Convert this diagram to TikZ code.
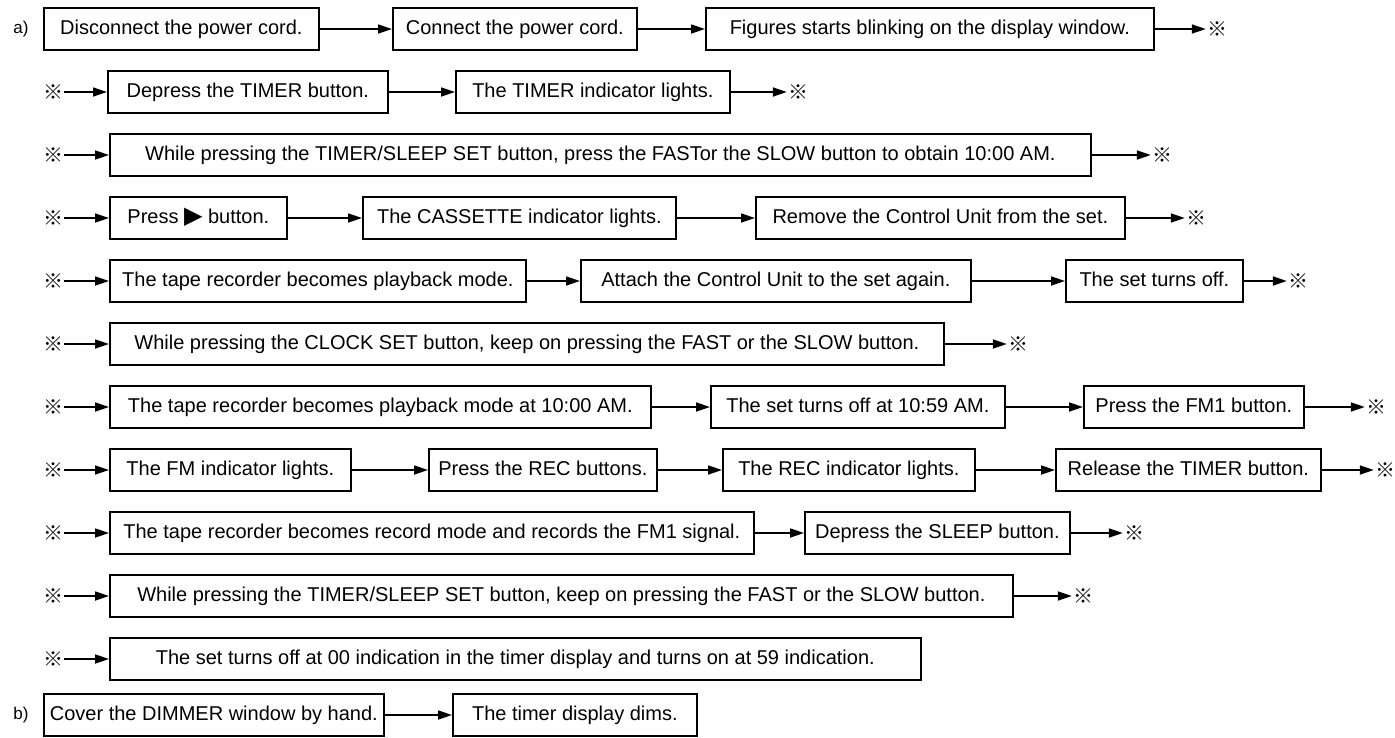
\documentclass[tikz,border=0pt]{standalone}
\usepackage{fontspec}
\setmainfont{Liberation Sans}
\newfontfamily\symfnt{DejaVu Sans}
\newfontfamily\markfnt{Noto Sans CJK JP}
\usetikzlibrary{arrows.meta}

\tikzset{
  stepbox/.style={draw, line width=1.7pt, anchor=west, minimum height=42pt, inner xsep=6pt,
    text height=15pt, text depth=4pt, font=\fontsize{20}{24}\selectfont},
  refmark/.style={inner sep=1pt, font=\markfnt\fontsize{20}{22}\selectfont},
  part/.style={font=\fontsize{17}{20}\selectfont},
  flow/.style={line width=1.7pt, -{Triangle[length=14pt,width=9pt]}},
}

\begin{document}
\begin{tikzpicture}[x=1pt,y=-1pt]
\useasboundingbox (0,0) rectangle (1395,737);
\fill[white] (0,0) rectangle (1395,737);

% a)
\node[part] (pa) at (21,29) {a)};
\node[stepbox, minimum width=275] (r1a) at (43,29) {Disconnect the power cord.};
\node[stepbox, minimum width=244] (r1b) at (392,29) {Connect the power cord.};
\node[stepbox, minimum width=448] (r1c) at (705,29) {Figures starts blinking on the display window.};
\node[refmark] (e1) at (1217,29) {※};

\node[stepbox, minimum width=280] (r2a) at (107,92) {Depress the TIMER button.};
\node[stepbox, minimum width=274] (r2b) at (455,92) {The TIMER indicator lights.};
\node[refmark] (e2) at (798,92) {※};

\node[stepbox, minimum width=981] (r3a) at (109,155) {While pressing the TIMER/SLEEP SET button, press the FASTor the SLOW button to obtain 10:00 AM.};
\node[refmark] (e3) at (1162,155) {※};

\node[stepbox, minimum width=177] (r4a) at (109,218) {Press {\symfnt\fontsize{24}{24}\selectfont ▶} button.};
\node[stepbox, minimum width=313] (r4b) at (362,218) {The CASSETTE indicator lights.};
\node[stepbox, minimum width=369] (r4c) at (755,218) {Remove the Control Unit from the set.};
\node[refmark] (e4) at (1196,218) {※};

\node[stepbox, minimum width=416] (r5a) at (109,281) {The tape recorder becomes playback mode.};
\node[stepbox, minimum width=390] (r5b) at (580,281) {Attach the Control Unit to the set again.};
\node[stepbox, minimum width=177] (r5c) at (1065,281) {The set turns off.};
\node[refmark] (e5) at (1298,281) {※};

\node[stepbox, minimum width=834] (r6a) at (109,344) {While pressing the CLOCK SET button, keep on pressing the FAST or the SLOW button.};
\node[refmark] (e6) at (1018,344) {※};

\node[stepbox, minimum width=541] (r7a) at (109,407) {The tape recorder becomes playback mode at 10:00 AM.};
\node[stepbox, minimum width=294] (r7b) at (710,407) {The set turns off at 10:59 AM.};
\node[stepbox, minimum width=220] (r7c) at (1083,407) {Press the FM1 button.};
\node[refmark] (e7) at (1376,407) {※};

\node[stepbox, minimum width=241] (r8a) at (109,470) {The FM indicator lights.};
\node[stepbox, minimum width=228] (r8b) at (428,470) {Press the REC buttons.};
\node[stepbox, minimum width=252] (r8c) at (722,470) {The REC indicator lights.};
\node[stepbox, minimum width=265] (r8d) at (1055,470) {Release the TIMER button.};
\node[refmark] (e8) at (1385,470) {※};

\node[stepbox, minimum width=644] (r9a) at (109,533) {The tape recorder becomes record mode and records the FM1 signal.};
\node[stepbox, minimum width=265] (r9b) at (804,533) {Depress the SLEEP button.};
\node[refmark] (e9) at (1134,533) {※};

\node[stepbox, minimum width=903] (r10a) at (109,596) {While pressing the TIMER/SLEEP SET button, keep on pressing the FAST or the SLOW button.};
\node[refmark] (e10) at (1083,596) {※};

\node[stepbox, minimum width=811] (r11a) at (109,659) {The set turns off at 00 indication in the timer display and turns on at 59 indication.};

% b)
\node[part] (pb) at (21,715) {b)};
\node[stepbox, minimum width=340] (rba) at (43,715) {Cover the DIMMER window by hand.};
\node[stepbox, minimum width=244] (rbb) at (452,715) {The timer display dims.};

% arrows along the rows
\foreach \a/\b in {r1a/r1b,r1b/r1c,r1c/e1,r2a/r2b,r2b/e2,r3a/e3,r4a/r4b,r4b/r4c,r4c/e4,
  r5a/r5b,r5b/r5c,r5c/e5,r6a/e6,r7a/r7b,r7b/r7c,r7c/e7,r8a/r8b,r8b/r8c,r8c/r8d,r8d/e8,
  r9a/r9b,r9b/e9,r10a/e10,rba/rbb}
  \draw[flow] (\a) -- (\b);

% marks at the row starts
\foreach \r/\y in {2/92,3/155,4/218,5/281,6/344,7/407,8/470,9/533,10/596,11/659}{
  \node[refmark] (s\r) at (53,\y) {※};
  \draw[flow] (s\r) -- (r\r a);
}
\end{tikzpicture}
\end{document}
